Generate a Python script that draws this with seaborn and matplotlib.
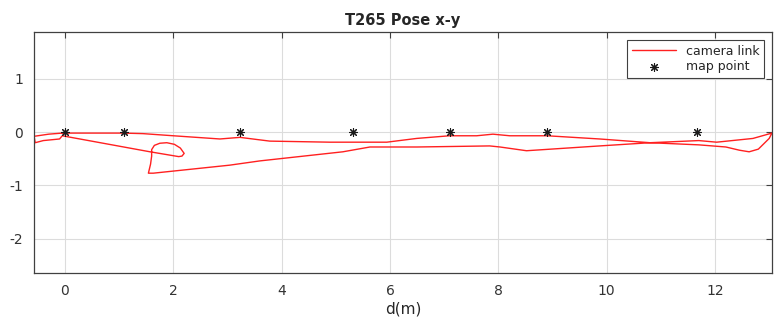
import pandas as pd
import matplotlib.pyplot as plt
import seaborn as sns


# camera trajectory (x, y)
path_x = [-0.05, 1.07, 1.44, 2.0, 2.86, 3.23, 3.78, 4.89, 5.94, 6.49, 7.1, 7.6, 7.9, 8.21,
          8.9, 9.87, 10.8, 11.7, 12.2, 12.45, 12.63, 12.8, 13.0, 13.05,
          12.7, 12.03, 11.7, 10.8, 9.87, 8.52, 8.03, 7.84, 6.5, 5.63, 5.13, 3.6, 3.04,
          1.63, 1.54, 1.58, 1.6, 1.6, 1.65, 1.75, 1.88, 2.02, 2.13, 2.2, 2.16, 2.1, 1.57, -0.05,
          -0.1, -0.4, -0.55, -0.57, -0.3, -0.05]
path_y = [-0.02, -0.02, -0.03, -0.07, -0.13, -0.1, -0.17, -0.19, -0.19, -0.12, -0.07, -0.07, -0.04, -0.07,
          -0.07, -0.13, -0.2, -0.24, -0.28, -0.34, -0.37, -0.32, -0.12, -0.02,
          -0.12, -0.19, -0.16, -0.2, -0.26, -0.35, -0.28, -0.26, -0.28, -0.28, -0.37, -0.54, -0.62,
          -0.77, -0.77, -0.6, -0.45, -0.33, -0.25, -0.21, -0.2, -0.23, -0.3, -0.4, -0.45, -0.46, -0.37, -0.07,
          -0.13, -0.16, -0.2, -0.08, -0.04, -0.02]

# map points
map_x = [0.0, 1.09, 3.23, 5.32, 7.11, 8.90, 11.66]
map_y = [0, 0, 0, 0, 0, 0, 0]

path = pd.DataFrame({"x": path_x, "y": path_y})
points = pd.DataFrame({"x": map_x, "y": map_y})


sns.set_style("whitegrid")
plt.rcParams["font.family"] = ["DejaVu Sans"]
plt.rcParams["axes.unicode_minus"] = False

fig = plt.figure(figsize=(7.75, 3.24), dpi=100)
ax = fig.add_axes([0.044, 0.157, 0.952, 0.744])

sns.lineplot(data=path, x="x", y="y", sort=False, estimator=None, color="#ff2020",
             linewidth=1.0, label="camera link", ax=ax)
sns.scatterplot(data=points, x="x", y="y", marker=(8, 2, 0), color="#1a1a1a", s=32,
                linewidth=0.8, edgecolor="#1a1a1a", label="map point", ax=ax, zorder=3)

ax.set_xlim(-0.57, 13.05)
ax.set_ylim(-2.64, 1.87)
ax.set_xticks([0, 2, 4, 6, 8, 10, 12])
ax.set_yticks([-2, -1, 0, 1])

ax.grid(True, color="#dcdcdc", linewidth=0.8)
for s in ax.spines.values():
    s.set_color("#404040")
    s.set_linewidth(0.9)
ax.tick_params(direction="in", length=4, top=True, right=True, colors="#404040",
               labelcolor="#333333", labelsize=10, pad=8)

ax.set_title("T265 Pose x-y", fontsize=10.5, fontweight="bold", pad=5)
ax.set_xlabel("d(m)", fontsize=11, color="#262626", labelpad=2)
ax.set_ylabel("")

leg = ax.legend(loc="upper right", fontsize=9, frameon=True, fancybox=False,
                edgecolor="#404040", framealpha=1, borderaxespad=0.6, handlelength=3.5,
                labelspacing=0.2)
leg.get_frame().set_linewidth(0.8)

plt.savefig("out.png", dpi=100)
plt.close()
